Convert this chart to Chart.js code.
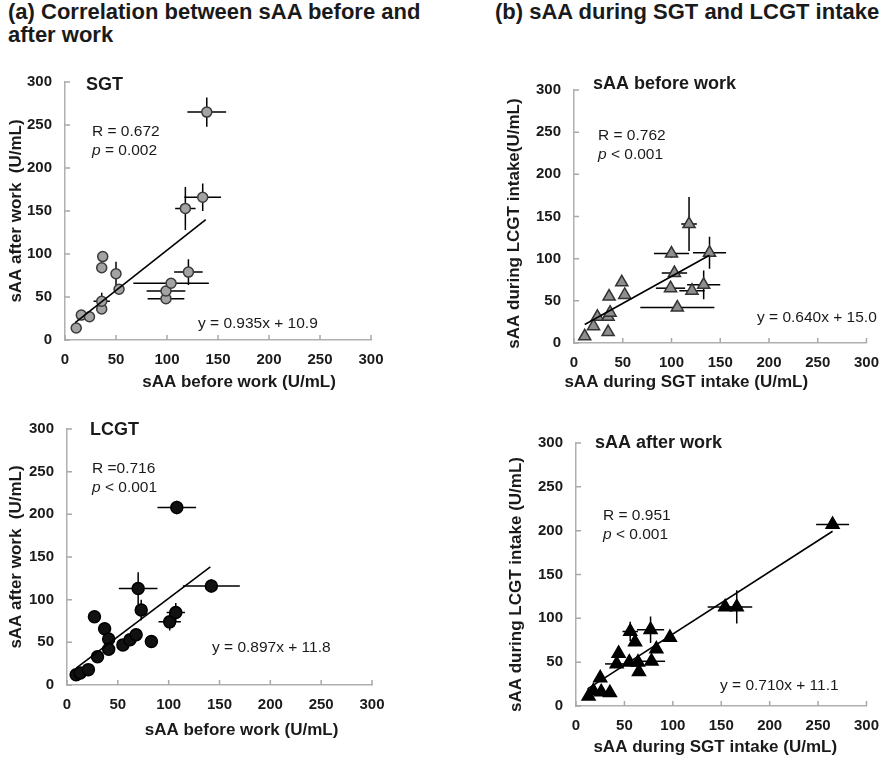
<!DOCTYPE html>
<html>
<head>
<meta charset="utf-8">
<script src="https://cdn.jsdelivr.net/npm/chart.js@4/dist/chart.umd.min.js"></script>
<style>
  body { margin: 0; background: #fff; font-family: 'Liberation Sans', Arial, sans-serif; }
  #page { position: relative; width: 890px; height: 760px; overflow: hidden; }
  .head { position: absolute; top: 0; font-weight: bold; font-size: 22px; line-height: 23px; color: #1a1a1a; }
  .panel { position: absolute; }
</style>
</head>
<body>
<div id="page">
  <div class="head" style="left:8px">(a) Correlation between sAA before and<br>after work</div>
  <div class="head" style="left:495px">(b) sAA during SGT and LCGT intake</div>
  <div class="panel" style="left:0;top:60px;width:445px;height:340px"><canvas id="c1"></canvas></div>
  <div class="panel" style="left:445px;top:60px;width:445px;height:340px"><canvas id="c2"></canvas></div>
  <div class="panel" style="left:0;top:400px;width:445px;height:360px"><canvas id="c3"></canvas></div>
  <div class="panel" style="left:445px;top:400px;width:445px;height:360px"><canvas id="c4"></canvas></div>
</div>
<script>
// (a) SGT: sAA before work vs after work
const sgtBefore    = [11, 16, 24, 36, 36, 36, 37, 50, 53, 99, 99, 104, 121, 118, 135, 139]
const sgtAfter     = [14, 29, 27, 36, 45, 84, 97, 77, 59, 48, 57, 66, 79, 153, 166, 265]
const sgtBeforeErr = [0, 0, 0, 0, 8, 0, 0, 0, 0, 18, 19, 37, 14, 10, 18, 19]
const sgtAfterErr  = [0, 0, 0, 4, 10, 0, 0, 14, 0, 0, 0, 3, 15, 25, 16, 17]
const sgtFitX = [10, 138]
const sgtFitY = [20.3, 139.9]

// (a) LCGT: sAA before work vs after work
const lcgtBefore    = [9, 13, 21, 27, 30, 37, 41, 41, 55, 62, 68, 70, 73, 83, 101, 107, 108, 142]
const lcgtAfter     = [12, 14, 18, 80, 33, 66, 54, 42, 47, 53, 59, 113, 88, 51, 74, 85, 208, 116]
const lcgtBeforeErr = [0, 0, 0, 0, 0, 0, 0, 0, 0, 5, 5, 19, 0, 0, 11, 9, 19, 28]
const lcgtAfterErr  = [0, 0, 0, 0, 0, 0, 0, 0, 0, 3, 4, 19, 12, 0, 10, 11, 8, 8]
const lcgtFitX = [9, 141]
const lcgtFitY = [19.9, 138.3]

// (b) before work: sAA during SGT vs LCGT intake
const beforeSgt     = [11, 20, 24, 35, 35, 37, 36, 49, 52, 100, 103, 99, 121, 133, 106, 118, 139]
const beforeLcgt    = [8, 20, 31, 31, 13, 36, 55, 72, 57, 106, 83, 65, 62, 69, 42, 141, 107]
const beforeSgtErr  = [0, 0, 0, 0, 0, 0, 0, 0, 0, 18, 13, 15, 13, 17, 38, 8, 17]
const beforeLcgtErr = [0, 0, 0, 0, 0, 0, 0, 0, 0, 5, 0, 0, 5, 17, 0, 32, 19]
const beforeFitX = [11, 139]
const beforeFitY = [22.0, 104.0]

// (b) after work: sAA during SGT vs LCGT intake
const afterSgt     = [13, 18, 25, 26, 35, 42, 44, 55, 56, 61, 64, 65, 77, 78, 83, 97, 154, 166, 265]
const afterLcgt    = [11, 17, 32, 16, 15, 48, 60, 50, 85, 73, 50, 39, 87, 51, 65, 78, 113, 113, 207]
const afterSgtErr  = [0, 0, 0, 0, 0, 12, 0, 0, 8, 0, 0, 0, 14, 14, 0, 0, 18, 16, 17]
const afterLcgtErr = [0, 0, 0, 0, 0, 0, 0, 0, 11, 0, 0, 0, 15, 0, 0, 0, 0, 19, 0]
const afterFitX = [12, 265]
const afterFitY = [19.6, 199.3]

const axisTicks = [0, 50, 100, 150, 200, 250, 300]
const ink = '#1a1a1a'
Chart.defaults.font.family = "'Liberation Sans', Arial, sans-serif"

const errorBars = {
  id: 'errorBars',
  beforeDatasetsDraw (chart) {
    const { ctx, scales } = chart
    const ds = chart.data.datasets[0]
    ctx.save()
    ctx.strokeStyle = '#000'
    ctx.lineWidth = 1.5
    ds.data.forEach((p, i) => {
      const px = scales.x.getPixelForValue(p.x)
      const py = scales.y.getPixelForValue(p.y)
      const ex = ds.xErr[i]
      const ey = ds.yErr[i]
      ctx.beginPath()
      if (ex) {
        ctx.moveTo(scales.x.getPixelForValue(p.x - ex), py)
        ctx.lineTo(scales.x.getPixelForValue(p.x + ex), py)
      }
      if (ey) {
        ctx.moveTo(px, scales.y.getPixelForValue(p.y - ey))
        ctx.lineTo(px, scales.y.getPixelForValue(p.y + ey))
      }
      ctx.stroke()
    })
    ctx.restore()
  }
}

// Excel style tick marks pointing into the plot
const insideTicks = {
  id: 'insideTicks',
  beforeDatasetsDraw (chart) {
    const { ctx, scales, chartArea } = chart
    ctx.save()
    ctx.strokeStyle = '#a8a8a8'
    ctx.lineWidth = 1.5
    ctx.beginPath()
    axisTicks.forEach(v => {
      const x = scales.x.getPixelForValue(v)
      ctx.moveTo(x, chartArea.bottom)
      ctx.lineTo(x, chartArea.bottom - 5)
      const y = scales.y.getPixelForValue(v)
      ctx.moveTo(chartArea.left, y)
      ctx.lineTo(chartArea.left + 5, y)
    })
    ctx.stroke()
    ctx.restore()
  }
}

const panelText = {
  id: 'panelText',
  afterDraw (chart, args, opts) {
    const { ctx, chartArea: a } = chart
    const cx = (a.left + a.right) / 2
    const cy = (a.top + a.bottom) / 2
    ctx.save()
    ctx.fillStyle = ink
    ctx.textBaseline = 'middle'

    // axis titles
    ctx.font = "bold 17px 'Liberation Sans', Arial, sans-serif"
    ctx.textAlign = 'center'
    ctx.fillText(opts.xTitle, cx + opts.xTitleDx, a.bottom + opts.xTitleDy)
    ctx.save()
    ctx.translate(a.left - opts.yTitleDx, cy + opts.yTitleDy)
    ctx.rotate(-Math.PI / 2)
    ctx.fillText(opts.yTitle, 0, 0)
    ctx.restore()

    ctx.textAlign = 'left'
    ctx.font = "bold 18px 'Liberation Sans', Arial, sans-serif"
    ctx.fillText(opts.name[0], a.left + opts.name[1], a.top + opts.name[2])

    ctx.font = "15.5px 'Liberation Sans', Arial, sans-serif"
    ctx.fillText(opts.r, a.left + opts.stats[0], a.top + opts.stats[1])
    ctx.font = "italic 15.5px 'Liberation Sans', Arial, sans-serif"
    ctx.fillText('p', a.left + opts.stats[0], a.top + opts.stats[1] + 19)
    const pw = ctx.measureText('p').width
    ctx.font = "15.5px 'Liberation Sans', Arial, sans-serif"
    ctx.fillText(opts.p, a.left + opts.stats[0] + pw, a.top + opts.stats[1] + 19)
    ctx.fillText(opts.eq, a.left + opts.eqPos[0], a.top + opts.eqPos[1])
    ctx.restore()
  }
}

function scaleOpts (fit) {
  return {
    type: 'linear',
    min: 0,
    max: 300,
    ticks: {
      stepSize: 50,
      autoSkip: false,
      maxRotation: 0,
      color: ink,
      font: { size: 15, weight: 'bold' }
    },
    grid: { display: false, drawTicks: false },
    border: { display: true, color: '#b0b0b0', width: 1.5 },
    afterFit: fit
  }
}

function makePanel (id, p) {
  const x = scaleOpts(s => { s.height = p.xh })
  x.ticks.padding = 11
  const y = scaleOpts(s => { s.width = p.yw })
  y.ticks.padding = 13

  return new Chart(document.getElementById(id), {
    type: 'scatter',
    data: {
      datasets: [
        {
          data: p.xs.map((v, i) => ({ x: v, y: p.ys[i] })),
          xErr: p.xErr,
          yErr: p.yErr,
          pointStyle: p.marker,
          pointRadius: p.radius,
          backgroundColor: p.fill,
          borderColor: p.stroke,
          borderWidth: 1.5,
          order: 1
        },
        {
          data: p.fitX.map((v, i) => ({ x: v, y: p.fitY[i] })),
          showLine: true,
          pointRadius: 0,
          borderColor: '#000',
          borderWidth: 1.6,
          order: 0
        }
      ]
    },
    options: {
      animation: false,
      responsive: true,
      maintainAspectRatio: false,
      layout: { padding: p.pad },
      scales: { x, y },
      plugins: {
        legend: { display: false },
        tooltip: { enabled: false },
        panelText: p.text
      }
    },
    plugins: [errorBars, insideTicks, panelText]
  })
}

makePanel('c1', {
  xs: sgtBefore, ys: sgtAfter, xErr: sgtBeforeErr, yErr: sgtAfterErr,
  fitX: sgtFitX, fitY: sgtFitY,
  marker: 'circle', radius: 5, fill: '#a3a3a3', stroke: '#3a3a3a',
  pad: { left: 0, top: 17, right: 74, bottom: 0 }, yw: 65, xh: 60,
  text: {
    name: ['SGT', 21, 3],
    r: 'R = 0.672', p: ' = 0.002', stats: [27, 50],
    eq: 'y = 0.935x + 10.9', eqPos: [133, 242],
    xTitle: 'sAA before work (U/mL)', xTitleDx: 21, xTitleDy: 42,
    yTitle: 'sAA after work  (U/mL)', yTitleDx: 49, yTitleDy: 0
  }
})

makePanel('c2', {
  xs: beforeSgt, ys: beforeLcgt, xErr: beforeSgtErr, yErr: beforeLcgtErr,
  fitX: beforeFitX, fitY: beforeFitY,
  marker: 'triangle', radius: 7, fill: '#8e8e8e', stroke: '#333',
  pad: { left: 0, top: 30, right: 17, bottom: 0 }, yw: 129, xh: 57,
  text: {
    name: ['sAA before work', 19, -6],
    r: 'R = 0.762', p: ' < 0.001', stats: [24, 46],
    eq: 'y = 0.640x + 15.0', eqPos: [183, 228],
    xTitle: 'sAA during SGT intake (U/mL)', xTitleDx: -34, xTitleDy: 39,
    yTitle: 'sAA during LCGT intake(U/mL)', yTitleDx: 60, yTitleDy: 7
  }
})

makePanel('c3', {
  xs: lcgtBefore, ys: lcgtAfter, xErr: lcgtBeforeErr, yErr: lcgtAfterErr,
  fitX: lcgtFitX, fitY: lcgtFitY,
  marker: 'circle', radius: 6, fill: '#111', stroke: '#000',
  pad: { left: 0, top: 29, right: 73, bottom: 0 }, yw: 67, xh: 75,
  text: {
    name: ['LCGT', 23, 1],
    r: 'R =0.716', p: ' < 0.001', stats: [25, 40],
    eq: 'y = 0.897x + 11.8', eqPos: [145, 219],
    xTitle: 'sAA before work (U/mL)', xTitleDx: 22, xTitleDy: 45,
    yTitle: 'sAA after work  (U/mL)', yTitleDx: 51, yTitleDy: 0
  }
})

makePanel('c4', {
  xs: afterSgt, ys: afterLcgt, xErr: afterSgtErr, yErr: afterLcgtErr,
  fitX: afterFitX, fitY: afterFitY,
  marker: 'triangle', radius: 7.5, fill: '#000', stroke: '#000',
  pad: { left: 0, top: 43, right: 17, bottom: 0 }, yw: 131, xh: 54,
  text: {
    name: ['sAA after work', 19, 0],
    r: 'R = 0.951', p: ' < 0.001', stats: [27, 73],
    eq: 'y = 0.710x + 11.1', eqPos: [144, 243],
    xTitle: 'sAA during SGT intake (U/mL)', xTitleDx: -6, xTitleDy: 41,
    yTitle: 'sAA during LCGT intake (U/mL)', yTitleDx: 60, yTitleDy: 10
  }
})
</script>
</body>
</html>
